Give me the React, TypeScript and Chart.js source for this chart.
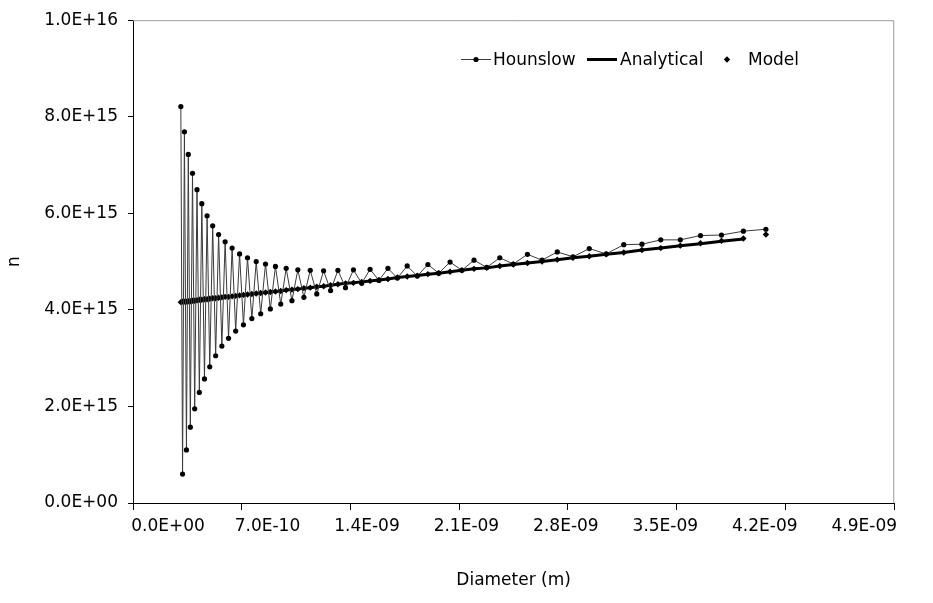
import { useEffect, useRef } from "react";
import { Chart, registerables } from "chart.js";

Chart.register(...registerables);

// Diameter grid (units of 1e-10 m)
const DIAMETER_E10 = [
  3.08, 3.19, 3.31, 3.44, 3.56, 3.69, 3.83, 3.97, 4.12, 4.27,
  4.43, 4.6, 4.77, 4.94, 5.13, 5.32, 5.51, 5.72, 5.93, 6.15,
  6.38, 6.61, 6.86, 7.11, 7.37, 7.65, 7.93, 8.22, 8.53, 8.84,
  9.17, 9.51, 9.86, 10.23, 10.61, 11.0, 11.41, 11.83, 12.27, 12.72,
  13.19, 13.68, 14.19, 14.72, 15.26, 15.83, 16.41, 17.02, 17.65, 18.3,
  18.98, 19.68, 20.41, 21.17, 21.95, 22.77, 23.61, 24.48, 25.39, 26.33,
  27.31, 28.32, 29.37, 30.46, 31.59, 32.76, 33.97, 35.23, 36.53, 37.88,
  39.29, 40.74,
];

// n values (units of 1e15)
const HOUNSLOW_E15 = [
  8.21, 0.6, 7.69, 1.1, 7.22, 1.57, 6.83, 1.95, 6.49, 2.29,
  6.2, 2.57, 5.95, 2.82, 5.74, 3.05, 5.56, 3.25, 5.41, 3.41,
  5.28, 3.56, 5.16, 3.69, 5.08, 3.82, 5.0, 3.92, 4.95, 4.02,
  4.9, 4.12, 4.86, 4.19, 4.83, 4.26, 4.82, 4.33, 4.81, 4.4,
  4.82, 4.46, 4.83, 4.55, 4.84, 4.61, 4.86, 4.66, 4.91, 4.7,
  4.94, 4.76, 4.99, 4.82, 5.03, 4.88, 5.08, 4.95, 5.15, 5.03,
  5.2, 5.1, 5.27, 5.16, 5.35, 5.36, 5.45, 5.45, 5.54, 5.55,
  5.63, 5.67,
];

const ANALYTICAL_E15 = [
  4.16, 4.17, 4.17, 4.17, 4.18, 4.18, 4.19, 4.19, 4.2, 4.21,
  4.21, 4.22, 4.22, 4.23, 4.24, 4.24, 4.25, 4.26, 4.27, 4.27,
  4.28, 4.29, 4.3, 4.31, 4.32, 4.33, 4.34, 4.35, 4.36, 4.37,
  4.38, 4.39, 4.41, 4.42, 4.43, 4.45, 4.46, 4.48, 4.49, 4.51,
  4.53, 4.55, 4.56, 4.58, 4.6, 4.62, 4.64, 4.67, 4.69, 4.71,
  4.74, 4.76, 4.79, 4.82, 4.85, 4.87, 4.91, 4.94, 4.97, 5.0,
  5.04, 5.08, 5.11, 5.15, 5.19, 5.24, 5.28, 5.33, 5.37, 5.42,
  5.47,
];

const MODEL_E15 = [
  4.16, 4.17, 4.17, 4.17, 4.18, 4.18, 4.19, 4.19, 4.2, 4.21,
  4.21, 4.22, 4.22, 4.23, 4.24, 4.24, 4.25, 4.26, 4.27, 4.27,
  4.28, 4.29, 4.3, 4.31, 4.32, 4.33, 4.34, 4.35, 4.36, 4.37,
  4.38, 4.39, 4.41, 4.42, 4.43, 4.45, 4.46, 4.48, 4.49, 4.51,
  4.53, 4.55, 4.56, 4.58, 4.6, 4.62, 4.64, 4.67, 4.69, 4.71,
  4.74, 4.76, 4.79, 4.82, 4.85, 4.87, 4.91, 4.94, 4.97, 5.0,
  5.04, 5.08, 5.11, 5.15, 5.19, 5.24, 5.28, 5.33, 5.38, 5.43,
  5.48, 5.56,
];

const X_TICKS = [0, 7e-10, 1.4e-9, 2.1e-9, 2.8e-9, 3.5e-9, 4.2e-9, 4.9e-9];
const Y_TICKS = [0, 2e15, 4e15, 6e15, 8e15, 1e16];

const SERIES_NAMES = ["Hounslow", "Analytical", "Model"];
const X_TITLE = "Diameter (m)";
const Y_TITLE = "n";

const FONT = "DejaVu Sans";

function sci(v: number): string {
  if (Math.abs(v) < 1e-30) return "0.0E+00";
  const s = v.toExponential(1);
  const [m, e] = s.split("e");
  const sign = e[0] === "-" ? "-" : "+";
  const digits = e.replace(/[+-]/, "").padStart(2, "0");
  return m + "E" + sign + digits;
}

function toPoints(vals: number[]) {
  return vals.map((v, i) => ({ x: DIAMETER_E10[i] * 1e-10, y: v * 1e15 }));
}

const frame = {
  id: "frame",
  beforeDatasetsDraw(chart: any) {
    const { ctx, chartArea: a } = chart;
    ctx.save();
    ctx.strokeStyle = "#9a9a9a";
    ctx.lineWidth = 1;
    ctx.beginPath();
    ctx.moveTo(a.left, a.top + 0.5);
    ctx.lineTo(a.right - 0.5, a.top + 0.5);
    ctx.lineTo(a.right - 0.5, a.bottom);
    ctx.stroke();
    ctx.restore();
  },
};

// spread x tick labels as they appear in the original figure
const labelSpread = {
  id: "labelSpread",
  beforeDraw(chart: any) {
    const sc = chart.scales.x;
    const items = sc.getLabelItems(chart.chartArea);
    items.forEach((it: any) => {
      if (it._spread) return;
      const t = it.options.translation;
      t[0] = 168 + (t[0] - sc.left) * (99.7 / 109);
      it._spread = true;
    });
  },
};

const insideLegend = {
  id: "insideLegend",
  afterDraw(chart: any) {
    const ctx = chart.ctx;
    const ds = chart.data.datasets;
    const y = 59.5;
    ctx.save();
    ctx.font = `17px "${FONT}"`;
    ctx.fillStyle = "#000";
    ctx.textBaseline = "middle";
    ctx.textAlign = "left";
    // Hounslow
    ctx.strokeStyle = ds[0].borderColor;
    ctx.lineWidth = ds[0].borderWidth;
    ctx.beginPath();
    ctx.moveTo(461, y);
    ctx.lineTo(491, y);
    ctx.stroke();
    ctx.fillStyle = "#000";
    ctx.beginPath();
    ctx.arc(476, y, 2.6, 0, Math.PI * 2);
    ctx.fill();
    ctx.fillText(ds[0].label, 493, y + 1);
    // Analytical
    ctx.strokeStyle = ds[1].borderColor;
    ctx.lineWidth = ds[1].borderWidth;
    ctx.beginPath();
    ctx.moveTo(587, y);
    ctx.lineTo(617, y);
    ctx.stroke();
    ctx.fillText(ds[1].label, 620, y + 1);
    // Model
    const r = 3.2;
    const cx = 727;
    ctx.beginPath();
    ctx.moveTo(cx, y - r);
    ctx.lineTo(cx + r, y);
    ctx.lineTo(cx, y + r);
    ctx.lineTo(cx - r, y);
    ctx.closePath();
    ctx.fill();
    ctx.fillText(ds[2].label, 748, y + 1);
    ctx.restore();
  },
};

export default function App() {
  const ref = useRef<HTMLCanvasElement | null>(null);

  useEffect(() => {
    document.body.style.margin = "0";
    const canvas = ref.current;
    if (!canvas) return;
    const tickFont = { family: FONT, size: 17 };
    const chart = new Chart(canvas, {
      type: "scatter",
      data: {
        datasets: [
          {
            label: SERIES_NAMES[0],
            data: toPoints(HOUNSLOW_E15),
            showLine: true,
            borderColor: "#3a3a3a",
            borderWidth: 1,
            backgroundColor: "#000",
            pointBackgroundColor: "#000",
            pointBorderColor: "#000",
            pointBorderWidth: 0,
            pointRadius: 2.6,
            pointStyle: "circle",
            tension: 0,
          },
          {
            label: SERIES_NAMES[1],
            data: toPoints(ANALYTICAL_E15),
            showLine: true,
            borderColor: "#000",
            borderWidth: 3,
            pointRadius: 0,
            tension: 0,
          },
          {
            label: SERIES_NAMES[2],
            data: toPoints(MODEL_E15),
            showLine: false,
            pointStyle: "rectRot",
            pointRadius: 3.2,
            pointBackgroundColor: "#000",
            pointBorderColor: "#000",
            pointBorderWidth: 0,
          },
        ],
      },
      options: {
        responsive: false,
        animation: false,
        devicePixelRatio: 1,
        layout: { padding: { top: 13, right: 37, left: 0, bottom: 0 } },
        plugins: {
          legend: { display: false },
          tooltip: { enabled: false },
        },
        scales: {
          x: {
            type: "linear",
            min: 0,
            max: 4.9e-9,
            afterBuildTicks: (s: any) => {
              s.ticks = X_TICKS.map((v) => ({ value: v }));
            },
            afterFit: (s: any) => {
              s.height = 100;
            },
            border: { color: "#000", width: 1 },
            grid: { drawOnChartArea: false, drawTicks: true, tickLength: 7, color: "#000" },
            ticks: {
              font: tickFont,
              color: "#000",
              padding: 6,
              maxRotation: 0,
              autoSkip: false,
              callback: (v: any) => sci(Number(v)),
            },
            title: {
              display: true,
              text: X_TITLE,
              font: tickFont,
              color: "#000",
              padding: { top: 0, bottom: 12 },
            },
          },
          y: {
            type: "linear",
            min: 0,
            max: 1e16,
            afterBuildTicks: (s: any) => {
              s.ticks = Y_TICKS.map((v) => ({ value: v }));
            },
            afterFit: (s: any) => {
              s.width = 133;
            },
            border: { color: "#000", width: 1 },
            grid: { drawOnChartArea: false, drawTicks: true, tickLength: 5, color: "#000" },
            ticks: {
              font: tickFont,
              color: "#000",
              padding: 10,
              callback: (v: any) => sci(Number(v)),
            },
            title: {
              display: true,
              text: Y_TITLE,
              font: tickFont,
              color: "#000",
              padding: { top: 4, bottom: 0 },
            },
          },
        },
      },
      plugins: [frame, labelSpread, insideLegend],
    });
    return () => chart.destroy();
  }, []);

  return <canvas ref={ref} width={933} height={603} style={{ display: "block" }} />;
}
